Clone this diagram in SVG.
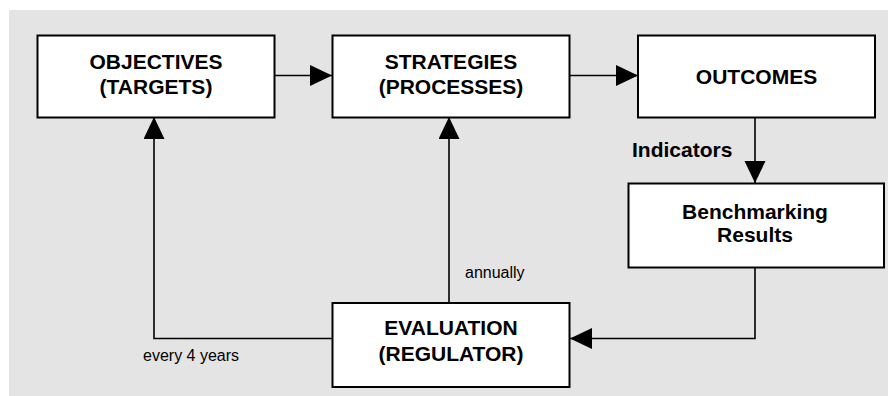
<svg xmlns="http://www.w3.org/2000/svg" width="888" height="396" viewBox="0 0 888 396">
<style>
.box{fill:#ffffff;stroke:#000000;stroke-width:2}
.lbl{font-family:"Liberation Sans",Arial,sans-serif;font-weight:bold;font-size:21px;text-anchor:middle;fill:#000}
.note{font-family:"Liberation Sans",Arial,sans-serif;font-size:16px;fill:#000}
.conn{fill:none;stroke:#000;stroke-width:1.6}
</style>
<defs>
<marker id="arr" markerUnits="userSpaceOnUse" markerWidth="23" markerHeight="22" refX="22" refY="10.5" orient="auto">
<path d="M0,0 L22,10.5 L0,21 z" fill="#000"/>
</marker>
</defs>
<rect x="9" y="10" width="879" height="386" fill="#e4e4e4"/>
<g id="connectors">
<line class="conn" x1="275" y1="75.5" x2="332" y2="75.5" marker-end="url(#arr)"/>
<line class="conn" x1="569" y1="75.5" x2="638" y2="75.5" marker-end="url(#arr)"/>
<line class="conn" x1="755" y1="117" x2="755" y2="183" marker-end="url(#arr)"/>
<polyline class="conn" points="755,248 755,338.5 570,338.5" marker-end="url(#arr)"/>
<polyline class="conn" points="332,338.5 154,338.5 154,117" marker-end="url(#arr)"/>
<line class="conn" x1="449" y1="303" x2="449" y2="117" marker-end="url(#arr)"/>
<text class="note" x="143" y="361">every 4 years</text>
<text class="note" x="465" y="278">annually</text>
<text class="lbl" x="632" y="157" style="text-anchor:start">Indicators</text>
</g>
<g id="objectives">
<rect class="box" x="37.5" y="35.5" width="237" height="82"/>
<text class="lbl" x="156" y="69">OBJECTIVES</text>
<text class="lbl" x="156" y="94">(TARGETS)</text>
</g>
<g id="strategies">
<rect class="box" x="332.5" y="35.5" width="237" height="82"/>
<text class="lbl" x="451" y="69">STRATEGIES</text>
<text class="lbl" x="451" y="94">(PROCESSES)</text>
</g>
<g id="outcomes">
<rect class="box" x="638" y="35.5" width="237" height="82"/>
<text class="lbl" x="756.5" y="83.5">OUTCOMES</text>
</g>
<g id="benchmarking">
<rect class="box" x="628.5" y="183.5" width="255.5" height="84"/>
<text class="lbl" x="755" y="219">Benchmarking</text>
<text class="lbl" x="755" y="241.5">Results</text>
</g>
<g id="evaluation">
<rect class="box" x="332.5" y="303" width="237" height="84"/>
<text class="lbl" x="451" y="335">EVALUATION</text>
<text class="lbl" x="451" y="360.5">(REGULATOR)</text>
</g>
</svg>
